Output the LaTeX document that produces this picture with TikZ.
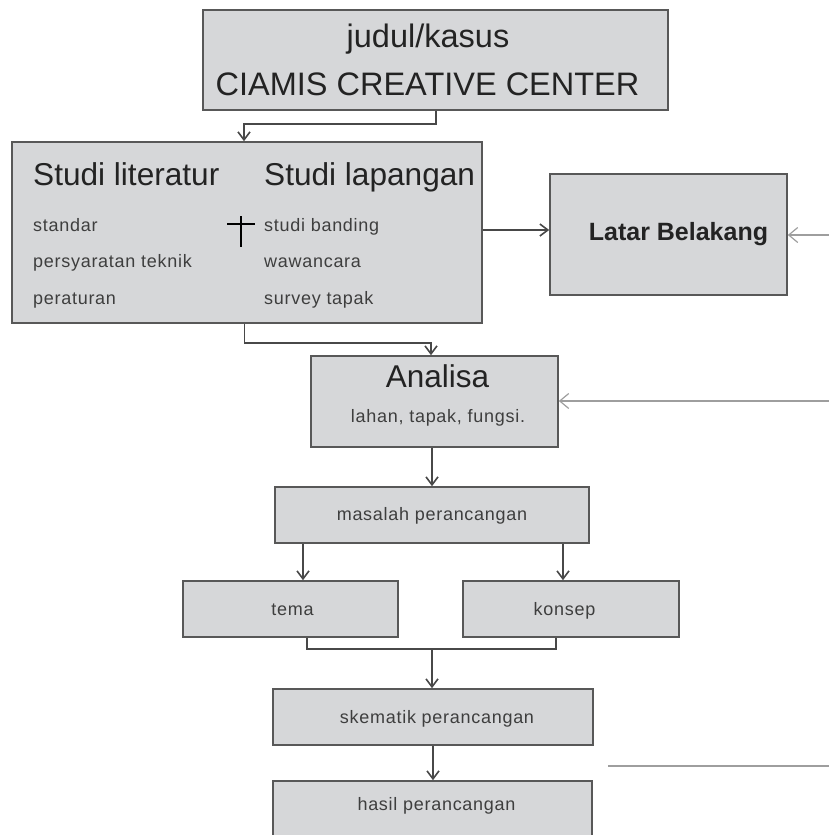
\documentclass[tikz,border=0pt]{standalone}
\usepackage{fontspec}
\setmainfont{Liberation Sans}
\newfontfamily\spacedfont[LetterSpace=4]{Liberation Sans}
\usetikzlibrary{arrows.meta,positioning}
\definecolor{boxfill}{RGB}{214,215,217}
\definecolor{boxline}{RGB}{88,88,88}
\definecolor{inkdark}{RGB}{35,35,35}
\definecolor{inksoft}{RGB}{62,62,62}
\definecolor{linkdark}{RGB}{72,72,72}
\definecolor{feedgray}{RGB}{158,158,158}
\newcommand{\bigtxt}{\fontsize{32.5}{38}\selectfont}
\newcommand{\smalltxt}{\spacedfont\fontsize{18}{21}\selectfont}

\begin{document}
\begin{tikzpicture}[x=1pt, y=-1pt,
  stage/.style={rectangle, draw=boxline, line width=1.6pt, fill=boxfill, inner sep=0pt},
  title/.style={inner sep=0pt, text=inkdark, font=\bigtxt},
  item/.style={inner sep=0pt, text=inksoft, font=\smalltxt},
  conn/.style={draw=linkdark, line width=1.5pt, -{Straight Barb[length=8pt,width=12pt,line width=1.6pt]}},
  link/.style={draw=linkdark, line width=1.5pt},
  feed/.style={draw=feedgray, line width=2pt, -{Straight Barb[length=9pt,width=15pt,line width=1.2pt]}}]

\clip (0,0) rectangle (829,835);

% BOXES

\node [stage, minimum width=465, minimum height=100] (judulbox) at (435.5,60) {};
\node [title, anchor=base] (judul) at (428,47) {judul/kasus};
\node [title, anchor=base] (ciamis) at (427.5,95) {CIAMIS CREATIVE CENTER};

\node [stage, minimum width=470, minimum height=181] (studi) at (247,232.5) {};
\node [title, anchor=base west, font=\fontsize{31.6}{36}\selectfont] (literatur) at (33,185) {Studi literatur};
\node [title, anchor=base west, font=\fontsize{31.6}{36}\selectfont] (lapangan) at (264,185) {Studi lapangan};
\node [item, anchor=base west] (standar) at (33,231) {standar};
\node [item, anchor=base west] (teknik) at (33,267) {persyaratan teknik};
\node [item, anchor=base west] (peraturan) at (33,304) {peraturan};
\node [item, anchor=base west] (banding) at (264,231) {studi banding};
\node [item, anchor=base west] (wawancara) at (264,267) {wawancara};
\node [item, anchor=base west] (survey) at (264,304) {survey tapak};
\draw [black, line width=2.2pt] (241,216) -- (241,247) (227,224) -- (255,224);

\node [stage, minimum width=237, minimum height=121] (latar) at (668.5,234.5) {};
\node [title, anchor=base, font=\fontsize{25}{30}\selectfont\bfseries] (latartext) at (678.5,240) {Latar Belakang};

\node [stage, minimum width=247, minimum height=91] (analisa) at (434.5,401.5) {};
\node [title, anchor=base, font=\fontsize{31.5}{36}\selectfont] (analisatitle) at (437.5,387) {Analisa};
\node [item, anchor=base] (analisaitem) at (438,422) {lahan, tapak, fungsi.};

\node [stage, minimum width=314, minimum height=56] (masalah) at (432,515) {};
\node [item, anchor=base] (masalahtext) at (432,520) {masalah perancangan};

\node [stage, minimum width=215, minimum height=56] (tema) at (290.5,609) {};
\node [item, anchor=base] (tematext) at (292.5,615) {tema};
\node [stage, minimum width=216, minimum height=56] (konsep) at (571,609) {};
\node [item, anchor=base] (konseptext) at (564.5,615) {konsep};

\node [stage, minimum width=320, minimum height=56] (skematik) at (433,717) {};
\node [item, anchor=base] (skematiktext) at (437,723) {skematik perancangan};

\node [stage, minimum width=319, minimum height=68] (hasil) at (432.5,815) {};
\node [item, anchor=base] (hasiltext) at (436.5,810) {hasil perancangan};

% CONNECTORS

\draw [conn] ([xshift=0.5pt]judulbox.south) -- ++(0,13) -| ([xshift=-3pt]studi.north);
\path ([yshift=4.5pt]latar.west) coordinate (latarin);
\draw [conn] (latarin -| studi.east) -- (latarin);
\draw [conn] ([xshift=-2.5pt]studi.south) -- ++(0,19) -| ([xshift=-3.5pt]analisa.north);
\draw [conn] (masalah.north |- analisa.south) -- (masalah.north);
\draw [conn] ([xshift=12.5pt]tema.north |- masalah.south) -- ([xshift=12.5pt]tema.north);
\draw [conn] ([xshift=-8pt]konsep.north |- masalah.south) -- ([xshift=-8pt]konsep.north);
\coordinate (merge) at (432,649);
\draw [link] ([xshift=16.5pt]tema.south) |- (merge) -| ([xshift=-15pt]konsep.south);
\draw [conn] (merge) -- (merge |- skematik.north);
\draw [conn] (skematik.south) -- (skematik.south |- hasil.north);

% FEEDS FROM THE RIGHT

\coordinate (feedlatar) at (829,235);
\coordinate (feedanalisa) at (829,401);
\coordinate (feedstart) at (608,766);
\coordinate (feedend) at (829,766);
\draw [feed] (feedlatar) -- (feedlatar -| latar.east);
\draw [feed] (feedanalisa) -- (feedanalisa -| analisa.east);
\draw [draw=feedgray, line width=2.5pt] (feedstart) -- (feedend);

\end{tikzpicture}
\end{document}
